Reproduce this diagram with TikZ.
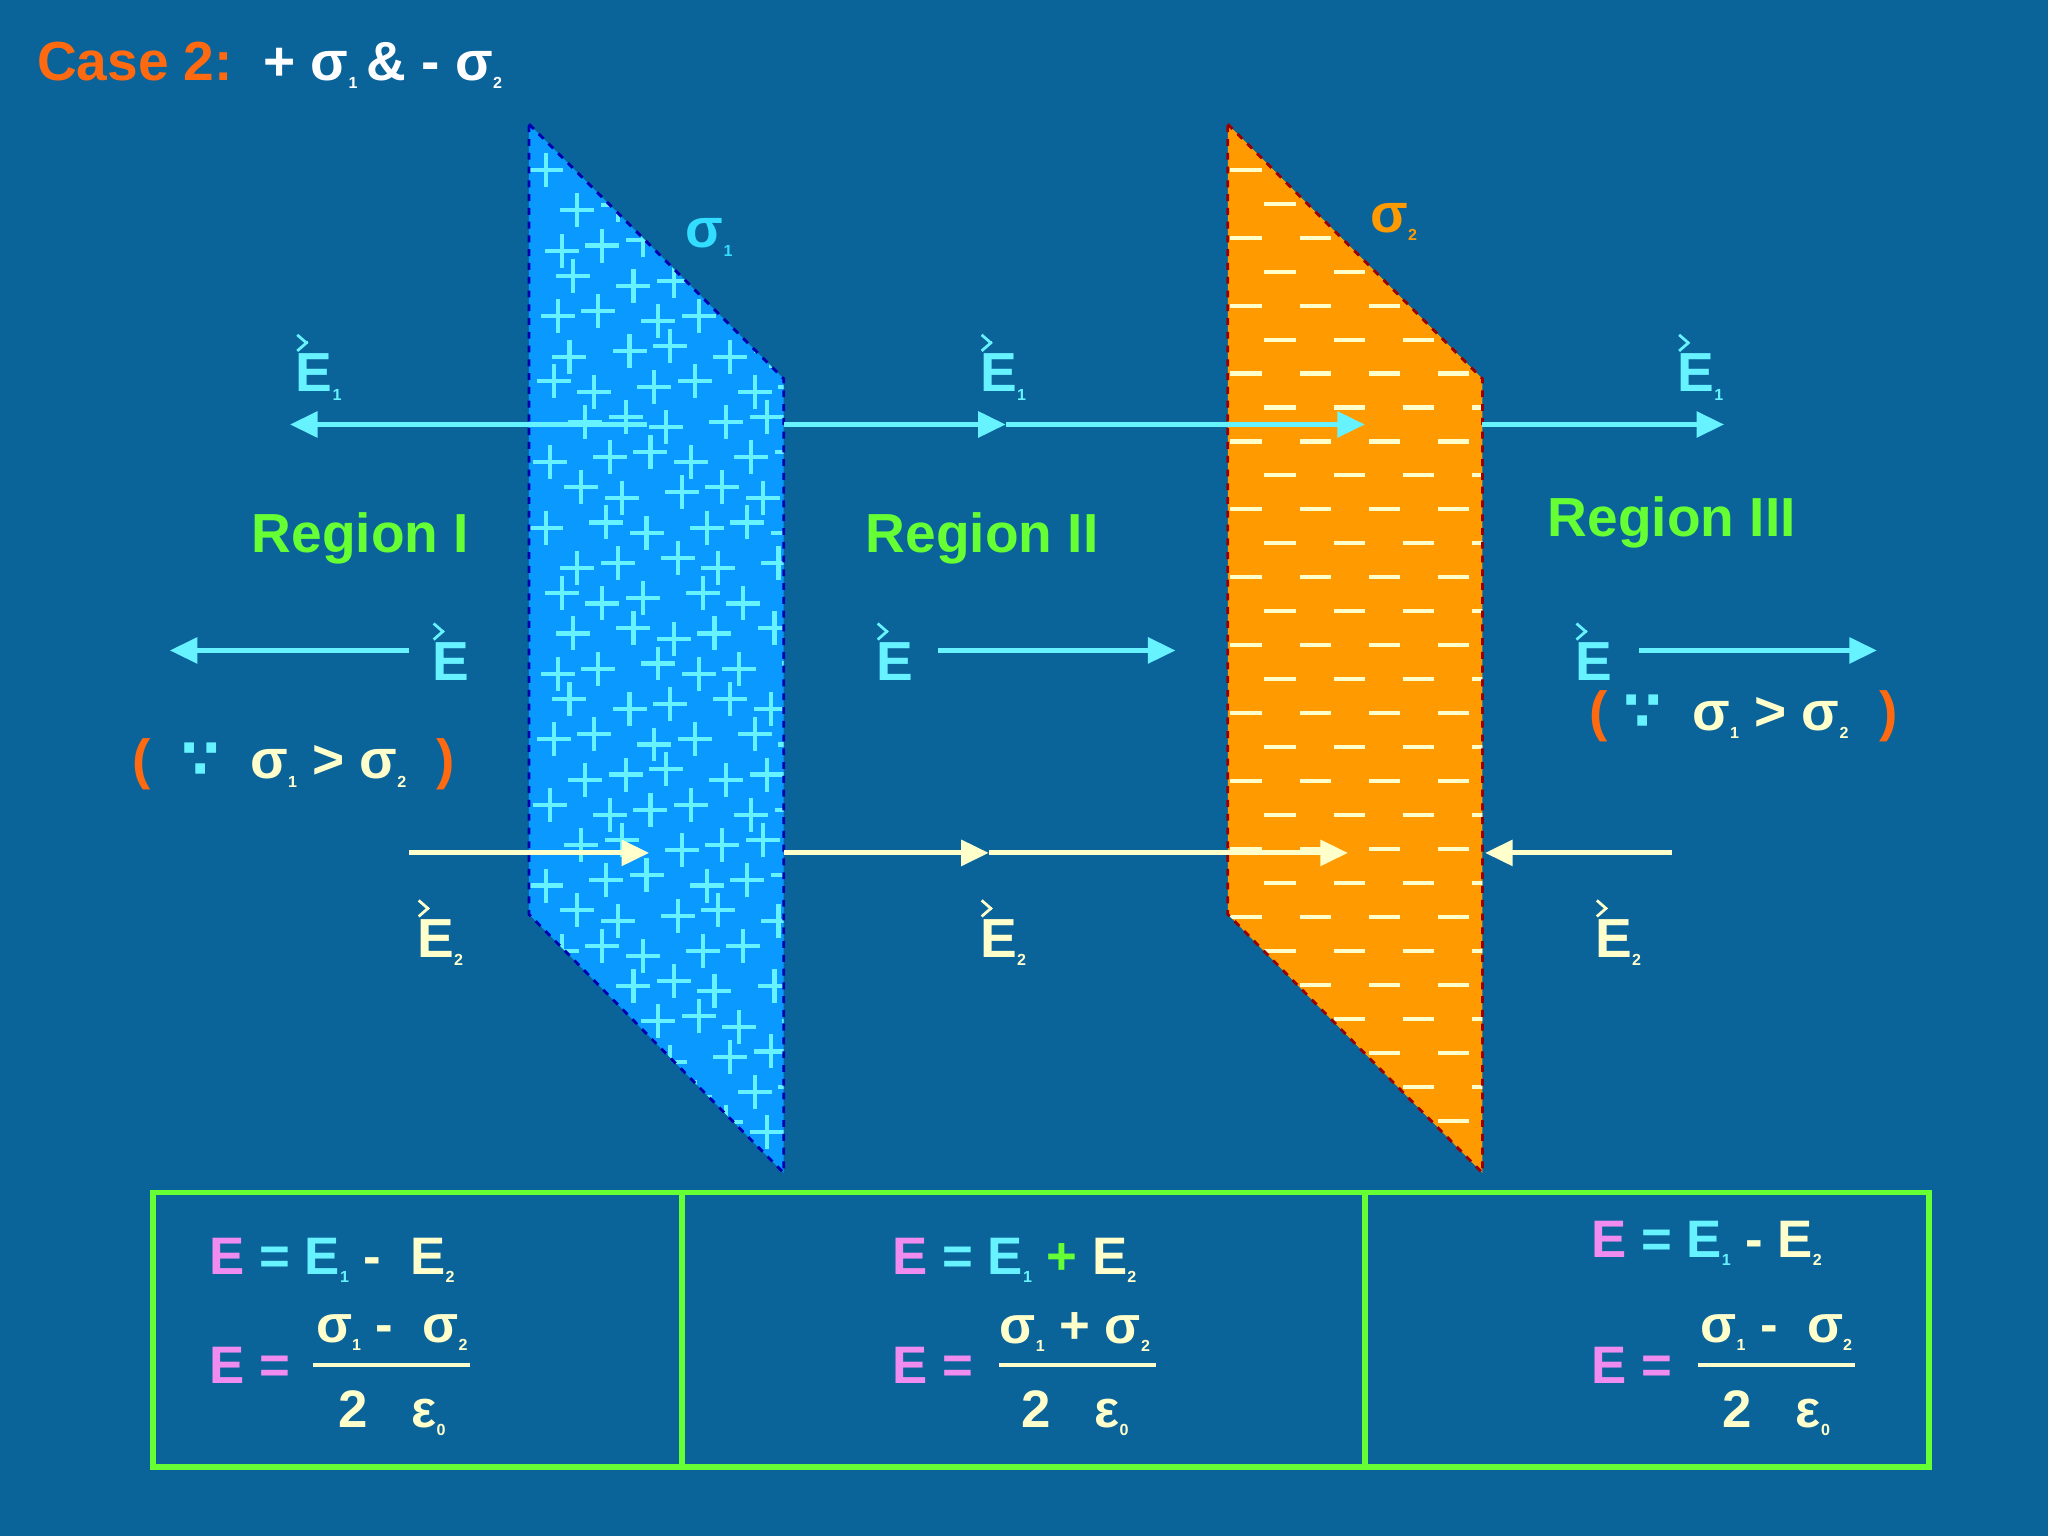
\documentclass[tikz,border=0pt]{standalone}
\usepackage{fontspec}
\setmainfont{Liberation Sans}
\newfontfamily\dv{DejaVu Sans}
\usetikzlibrary{arrows.meta}
\definecolor{bg}{HTML}{0A6399}
\definecolor{pbl}{HTML}{0A99FF}
\definecolor{por}{HTML}{FF9A00}
\definecolor{cy}{HTML}{66F2FF}
\definecolor{cr}{HTML}{FFFFCC}
\definecolor{gr}{HTML}{66FF33}
\definecolor{pk}{HTML}{F08CF0}
\definecolor{og}{HTML}{FF6A10}
\definecolor{sig}{HTML}{33DDFF}
\newcommand\sbs[1]{\raisebox{-0.3ex}{\scriptsize #1}}
\newcommand\VE[1]{\begin{tabular}{@{}l@{}}\tikz[baseline]{\draw[line width=1.2pt,-{Straight Barb[length=4pt,width=7pt]}] (0,0) -- (0.75,0);}\\[-0.2em]E\sbs{#1}\end{tabular}}
\tikzset{lbl/.style={font=\fontsize{24}{26}\selectfont\bfseries, inner sep=0},
 reg/.style={font=\fontsize{24}{28}\selectfont\bfseries, text=gr, inner sep=0},
 fm/.style={font=\fontsize{23}{26}\selectfont\bfseries, inner sep=0},
 ca/.style={line width=2.2pt, cy, -{Triangle[length=12pt,width=11pt]}},
 cb/.style={line width=2.2pt, cr, -{Triangle[length=12pt,width=11pt]}}}
\begin{document}
\begin{tikzpicture}[x=0.02cm,y=-0.02cm]
\fill[bg] (0,0) rectangle (1568,1176);
\useasboundingbox (0,0) rectangle (1568,1176);
\node[lbl,anchor=west] (title) at (28,50) {\textcolor{og}{Case 2:}\ \ \textcolor{white}{+ σ\sbs{1}\,\& - σ\sbs{2}}};
% plates
\fill[pbl] (405,95) -- (600,290) -- (600,898) -- (405,700) -- cycle;
\begin{scope}
\clip (405,95) -- (600,290) -- (600,898) -- (405,700) -- cycle;
\foreach \r in {0,...,27}{\foreach \c in {0,...,5}{
 \pgfmathsetmacro\xx{418+\c*37+mod(\r,2)*18+mod(\r*7+\c*3,5)*3}
 \pgfmathsetmacro\yy{130+\r*27+mod(\r+\c*2,3)*4}
 \draw[cy,line width=1.8pt] (\xx-13,\yy) -- (\xx+13,\yy) (\xx,\yy-13) -- (\xx,\yy+13);}}
\end{scope}
\draw[blue!70!black,dashed,line width=1.2pt] (405,95) -- (600,290) -- (600,898) -- (405,700) -- cycle;
\fill[por] (940,95) -- (1135,290) -- (1135,898) -- (940,700) -- cycle;
\begin{scope}
\clip (940,95) -- (1135,290) -- (1135,898) -- (940,700) -- cycle;
\foreach \r in {0,...,28}{\foreach \c in {0,...,3}{
 \pgfmathsetmacro\xx{954+\c*53+mod(\r,2)*26}
 \pgfmathsetmacro\yy{130+\r*26}
 \draw[cr,line width=1.8pt] (\xx-12,\yy) -- (\xx+12,\yy);}}
\end{scope}
\draw[red!60!black,dashed,line width=1.2pt] (940,95) -- (1135,290) -- (1135,898) -- (940,700) -- cycle;
\node[lbl,text=sig] (s1) at (543,182) {σ\sbs{1}};
\node[lbl,text=por] (s2) at (1067,170) {σ\sbs{2}};
% E1 arrows
\coordinate (a1) at (495,325); \coordinate (a2) at (222,325);
\coordinate (b1) at (600,325); \coordinate (b2) at (770,325); \coordinate (b3) at (1045,325);
\coordinate (c1) at (1135,325); \coordinate (c2) at (1320,325);
\draw[ca] (a1) -- (a2); \draw[ca] (b1) -- (b2); \draw[ca] (b2) -- (b3); \draw[ca] (c1) -- (c2);
% E arrows
\coordinate (d1) at (313,498); \coordinate (d2) at (130,498);
\coordinate (e1) at (718,498); \coordinate (e2) at (900,498);
\coordinate (f1) at (1255,498); \coordinate (f2) at (1437,498);
\draw[ca] (d1) -- (d2); \draw[ca] (e1) -- (e2); \draw[ca] (f1) -- (f2);
% E2 arrows
\coordinate (g1) at (313,653); \coordinate (g2) at (497,653);
\coordinate (h1) at (600,653); \coordinate (h2) at (757,653); \coordinate (h3) at (1032,653);
\coordinate (i1) at (1280,653); \coordinate (i2) at (1137,653);
\draw[cb] (g1) -- (g2); \draw[cb] (h1) -- (h2); \draw[cb] (h2) -- (h3); \draw[cb] (i1) -- (i2);
% labels
\node[lbl,text=cy] (l1) at (244,272) {\VE{1}};
\node[lbl,text=cy] (l2) at (768,272) {\VE{1}};
\node[lbl,text=cy] (l3) at (1302,272) {\VE{1}};
\node[lbl,text=cy] (m1) at (345,493) {\VE{}};
\node[lbl,text=cy] (m2) at (685,493) {\VE{}};
\node[lbl,text=cy] (m3) at (1220,493) {\VE{}};
\node[lbl,text=cr] (n1) at (337,705) {\VE{2}};
\node[lbl,text=cr] (n2) at (768,705) {\VE{2}};
\node[lbl,text=cr] (n3) at (1239,705) {\VE{2}};
\node[reg] (r1) at (276,412) {Region I};
\node[reg] (r2) at (752,412) {Region II};
\node[reg] (r3) at (1280,400) {Region III};
\node[lbl] (w1) at (225,585) {\textcolor{og}{(}\ \ \textcolor{cy}{\dv ∵}\ \ \textcolor{cr}{σ\sbs{1} > σ\sbs{2}}\ \ \textcolor{og}{)}};
\node[lbl] (w2) at (1335,548) {\textcolor{og}{(}\ \textcolor{cy}{\dv ∵}\ \ \textcolor{cr}{σ\sbs{1} > σ\sbs{2}}\ \ \textcolor{og}{)}};
% table
\draw[gr,line width=2.4pt] (117,913) rectangle (1477,1123);
\draw[gr,line width=2.4pt] (522,913) -- (522,1123) (1045,913) -- (1045,1123);
% formulas
\node[fm,anchor=west] (q1) at (160,965) {\textcolor{pk}{E} \textcolor{cy}{= E\sbs{1}} \textcolor{cr}{-\ \ E\sbs{2}}};
\node[fm,anchor=west] (q2) at (683,965) {\textcolor{pk}{E} \textcolor{cy}{= E\sbs{1}} \textcolor{gr}{+}\ \textcolor{cr}{E\sbs{2}}};
\node[fm,anchor=west] (q3) at (1218,952) {\textcolor{pk}{E} \textcolor{cy}{= E\sbs{1}} \textcolor{cr}{- E\sbs{2}}};
\foreach \n/\x/\xe/\xn/\op in {1/160/300/240/-\ ,2/683/823/765/+,3/1218/1360/1300/-\ }{
 \node[fm,anchor=west,text=pk] (p\n) at (\x,1045) {E =};
 \node[fm,text=cr] (nu\n) at (\xe,1020) {σ\sbs{1} \op\ σ\sbs{2}};
 \node[fm,text=cr] (de\n) at (\xe,1082) {2\ \ \ ε\sbs{0}};
 \draw[cr,line width=1.5pt] (\xn,1045) -- (\xn+120,1045);
}
\end{tikzpicture}
\end{document}
